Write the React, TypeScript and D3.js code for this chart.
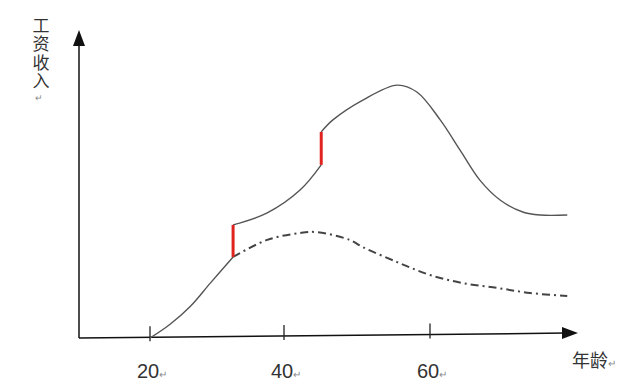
import React from "react";
import * as d3 from "d3";

const width = 640;
const height = 388;

// age ticks and their pixel positions (the original sketch is not evenly spaced)
const ageTicks = [20, 40, 60];
const tickPx = [150, 284, 430];

// solid curve: earnings with schooling / training, in three pieces
const solidLowAge = [20, 23, 26, 29, 32.4];
const solidLowInc = [0, 4.6, 10.5, 18.3, 27];
const solidMidAge = [32.4, 37.5, 42.2, 45.1];
const solidMidInc = [37.7, 41.7, 49.3, 57.7];
const solidHighAge = [45.1, 46.7, 50.8, 55.5, 58.2, 61.4, 64.1, 66.8, 69.6, 72.7, 75.1, 78.8];
const solidHighInc = [68.7, 72.7, 79.3, 84.3, 82, 72.7, 62.7, 52.7, 46, 42, 41, 41];

// dash-dot curve: earnings without further investment
const dashAge = [32.4, 37.5, 42.2, 44.5, 49, 50.8, 55.5, 60, 64.5, 69.2, 73.7, 78.8];
const dashInc = [27, 32.7, 35, 35.3, 32.7, 30.3, 25.3, 21, 18.3, 16.7, 15, 14];

// red jumps: [age, from, to]
const jumps: [number, number, number][] = [
  [32.4, 27, 37.7],
  [45.1, 57.7, 68.7],
];

const yLabel = "工资收入";

const x = d3.scaleLinear().domain(ageTicks).range(tickPx);
const y = d3.scaleLinear().domain([0, 100]).range([338, 38]);

const zip = (a: number[], b: number[]) => a.map((v, i) => [v, b[i]] as [number, number]);

const line = d3
  .line<[number, number]>()
  .x((d) => x(d[0]))
  .y((d) => y(d[1]))
  .curve(d3.curveCatmullRom.alpha(0.5));

// axes (x axis is slightly tilted in the scan)
const axX0 = 79;
const axY0 = 338;
const axX1 = 578;
const axY1 = 333;
const axisYAt = (px: number) => axY0 + ((px - axX0) / (axX1 - axX0)) * (axY1 - axY0);

const App = () => {
  const num = "'Liberation Sans', 'Open Sans', sans-serif";
  const cjk = "'Noto Sans CJK SC', sans-serif";
  return (
    <svg width={width} height={height} style={{ position: "absolute", left: 0, top: 0, background: "#fff" }}>
      {/* y axis */}
      <line x1={axX0} y1={axY0} x2={axX0} y2={42} stroke="#111" strokeWidth={1.5} />
      <path d={`M${axX0},30 L${axX0 - 6},46 L${axX0 + 6},46 Z`} fill="#111" />
      {/* x axis */}
      <line x1={axX0} y1={axY0} x2={axX1 - 12} y2={axisYAt(axX1 - 12)} stroke="#111" strokeWidth={1.5} />
      <path
        d={`M${axX1},${axY1} L${axX1 - 16},${axY1 - 6} L${axX1 - 16},${axY1 + 6} Z`}
        fill="#111"
      />
      {ageTicks.map((a) => {
        const px = x(a);
        const ay = axisYAt(px);
        return (
          <g key={a}>
            <line x1={px} y1={ay - 11} x2={px} y2={ay + 4} stroke="#222" strokeWidth={1.3} />
            <text x={px - 13} y={378} fontFamily={num} fontSize={20} fill="#333">
              {a}
              <tspan fontSize={10} fill="#888">↵</tspan>
            </text>
          </g>
        );
      })}

      {/* curves */}
      <path d={line(zip(solidLowAge, solidLowInc)) ?? ""} fill="none" stroke="#555" strokeWidth={1.4} />
      <path d={line(zip(solidMidAge, solidMidInc)) ?? ""} fill="none" stroke="#555" strokeWidth={1.4} />
      <path d={line(zip(solidHighAge, solidHighInc)) ?? ""} fill="none" stroke="#555" strokeWidth={1.4} />
      <path
        d={line(zip(dashAge, dashInc)) ?? ""}
        fill="none"
        stroke="#444"
        strokeWidth={2}
        strokeDasharray="8,4,2,4"
      />
      {jumps.map(([a, lo, hi]) => (
        <line key={a} x1={x(a)} x2={x(a)} y1={y(lo)} y2={y(hi)} stroke="#e0231f" strokeWidth={3} />
      ))}

      {/* labels */}
      <text
        x={41}
        y={17}
        fontFamily={cjk}
        fontSize={17}
        fill="#333"
        letterSpacing={1.5}
        style={{ writingMode: "vertical-rl" }}
      >
        {yLabel}
      </text>
      <text x={39} y={101} fontFamily={cjk} fontSize={9} fill="#888" textAnchor="middle">
        ↵
      </text>
      <text x={572} y={367} fontFamily={cjk} fontSize={18} fill="#333">
        年龄
        <tspan fontSize={10} fill="#888">↵</tspan>
      </text>
    </svg>
  );
};

export default App;
